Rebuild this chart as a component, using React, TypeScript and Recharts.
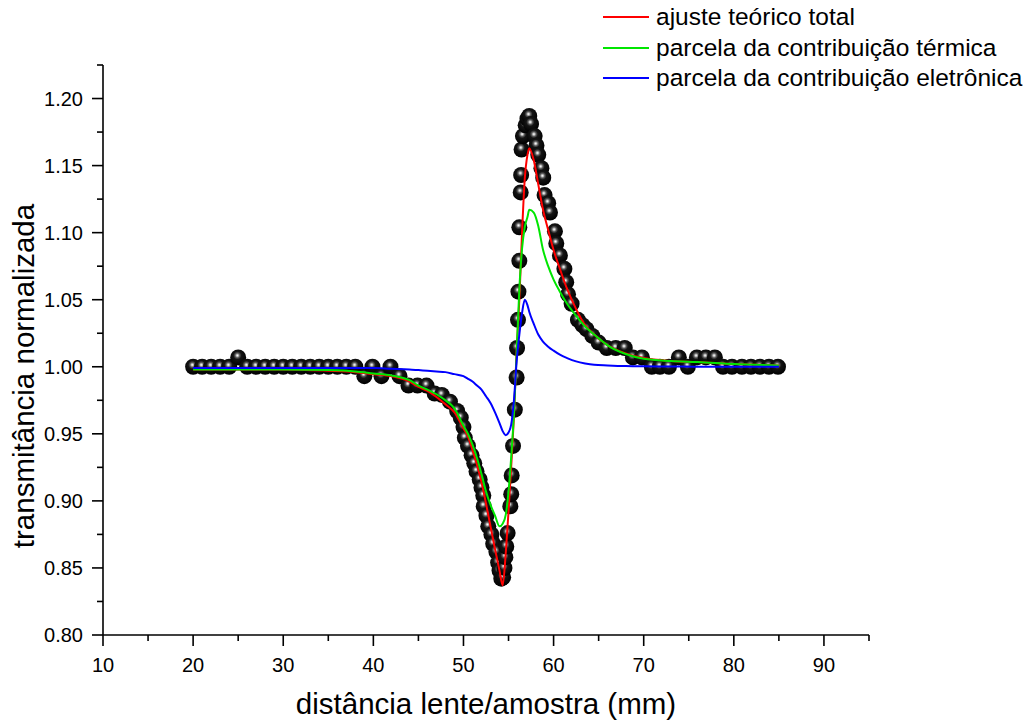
import { ComposedChart, Line, Scatter, XAxis, YAxis } from "recharts";

// measured z-scan points (distance in mm, normalized transmittance)
const scanX = [
  20, 21, 22, 23, 24, 25, 26, 27, 28, 29, 30, 31, 32, 33, 34, 35, 36, 37, 38,
  39.0, 39.9, 40.9, 41.9, 42.9, 43.9, 44.9, 45.9, 46.8, 47.6, 48.5, 49.3, 49.7,
  50.0, 50.15, 50.5, 50.9, 51.2, 51.45, 51.8, 52.0, 52.2, 52.25, 52.55, 52.75,
  53.1, 53.3, 53.65, 53.85, 54.0, 54.2, 54.4, 54.55, 54.65, 54.75, 54.9, 55.2,
  55.3, 55.35, 55.5, 55.7, 55.9, 55.95, 56.05, 56.1, 56.2, 56.2, 56.35, 56.4,
  56.45, 56.6, 56.9, 57.1, 57.3, 57.5, 57.9, 58.1, 58.3, 58.65, 58.85, 59.0,
  59.4, 59.6, 60.15, 60.3, 60.7, 61.2, 61.4, 61.6, 62.0, 62.7, 63.2, 63.65,
  64.3, 65.0, 65.9, 66.9, 67.9, 68.8, 69.8, 70.9, 71.8, 72.8, 73.9, 74.9, 75.9,
  76.9, 77.9, 78.8, 79.8, 80.9, 81.9, 82.9, 83.9, 84.9,
];
const scanY = [
  1.0, 1.0, 1.0, 1.0, 1.0, 1.007, 1.0, 1.0, 1.0, 1.0, 1.0, 1.0, 1.0, 1.0, 1.0, 1.0, 1.0, 1.0, 1.0,
  0.993, 1.0, 0.993, 1.0, 0.993, 0.986, 0.986, 0.986, 0.98, 0.979, 0.974, 0.967, 0.962,
  0.955, 0.947, 0.941, 0.934, 0.928, 0.922, 0.916, 0.91, 0.904, 0.896, 0.889, 0.881,
  0.875, 0.868, 0.862, 0.854, 0.848, 0.842, 0.843, 0.85, 0.858, 0.866, 0.876, 0.896,
  0.905, 0.919, 0.941, 0.968, 0.992, 1.014, 1.035, 1.056, 1.079, 1.104, 1.13, 1.143,
  1.162, 1.172, 1.18, 1.185, 1.187, 1.181, 1.172, 1.165, 1.158, 1.148, 1.141, 1.128,
  1.122, 1.115, 1.101, 1.092, 1.083, 1.073, 1.063, 1.054, 1.047, 1.035, 1.031, 1.028,
  1.023, 1.018, 1.014, 1.014, 1.014, 1.007, 1.007, 1.0, 1.0, 1.0, 1.007, 1.0, 1.007,
  1.007, 1.007, 1.0, 1.0, 1.0, 1.0, 1.0, 1.0, 1.0,
];

// fitted curves
const fitX = [
  20, 30, 35, 38, 40, 42, 44, 45, 46, 47, 48, 49, 50, 50.5, 51, 51.5, 52, 52.5,
  53, 53.5, 54, 54.35, 54.7, 55, 55.3, 55.6, 55.9, 56.2, 56.5, 56.8, 57.1, 57.3,
  57.8, 58.3, 58.8, 59.4, 60, 60.7, 61.5, 62.5, 63.5, 64.5, 66, 68, 70, 73, 76, 80, 85,
];
const totalFit = [
  0.998, 0.998, 0.997, 0.996, 0.9945, 0.993, 0.989, 0.985, 0.982, 0.9775, 0.972, 0.966, 0.954, 0.948, 0.938, 0.927, 0.914, 0.898,
  0.881, 0.864, 0.848, 0.837, 0.862, 0.892, 0.926, 0.963, 1.012, 1.05, 1.1, 1.14, 1.158, 1.163,
  1.154, 1.136, 1.118, 1.102, 1.087, 1.073, 1.058, 1.043, 1.031, 1.024, 1.016, 1.01, 1.0065, 1.0043, 1.0035, 1.002, 1.001,
];
const thermalFit = [
  0.998, 0.998, 0.9975, 0.9965, 0.995, 0.9935, 0.99, 0.986, 0.983, 0.9795, 0.975, 0.969, 0.956, 0.95, 0.942, 0.932, 0.92, 0.907,
  0.897, 0.889, 0.881, 0.883, 0.89, 0.907, 0.933, 0.965, 1.01, 1.058, 1.088, 1.104, 1.1116, 1.117,
  1.115, 1.105, 1.088, 1.075, 1.065, 1.056, 1.047, 1.038, 1.03, 1.024, 1.016, 1.0095, 1.006, 1.0043, 1.0035, 1.002, 1.001,
];
const electronicFit = [
  0.999, 0.999, 0.999, 0.999, 0.999, 0.9985, 0.998, 0.9975, 0.997, 0.9965, 0.996, 0.9945, 0.993, 0.991, 0.989, 0.986, 0.983, 0.978,
  0.973, 0.966, 0.958, 0.952, 0.949, 0.951, 0.957, 0.975, 1.004, 1.024, 1.04, 1.05, 1.046, 1.041,
  1.032, 1.024, 1.019, 1.015, 1.012, 1.009, 1.0065, 1.004, 1.0025, 1.0015, 1.001, 1.0005, 1.0003, 1.0002, 1.0, 1.0, 1.0,
];

const xMajor = [10, 20, 30, 40, 50, 60, 70, 80, 90];
const xAll = [10, 15, 20, 25, 30, 35, 40, 45, 50, 55, 60, 65, 70, 75, 80, 85, 90, 95];
const yMajor = [0.8, 0.85, 0.9, 0.95, 1.0, 1.05, 1.1, 1.15, 1.2];
const yAll = [0.8, 0.825, 0.85, 0.875, 0.9, 0.925, 0.95, 0.975, 1.0, 1.025, 1.05, 1.075, 1.1, 1.125, 1.15, 1.175, 1.2, 1.225];

const legendItems = [
  { name: "ajuste teórico total", color: "#ff0000" },
  { name: "parcela da contribuição térmica", color: "#00e600" },
  { name: "parcela da contribuição eletrônica", color: "#0000ff" },
];

const FONT = "'Liberation Sans', Arial, sans-serif";

const points = scanX.map((x, i) => ({ x, y: scanY[i] }));
const curves = fitX.map((x, i) => ({
  x,
  total: totalFit[i],
  thermal: thermalFit[i],
  electronic: electronicFit[i],
}));

const isMajor = (list: number[], v: number) => list.some((m) => Math.abs(m - v) < 1e-6);

function XTick(props: any) {
  const { x, y, payload } = props;
  const major = isMajor(xMajor, payload.value);
  return (
    <g>
      <line x1={x} x2={x} y1={y} y2={y + (major ? 11 : 6)} stroke="#000" strokeWidth={1.6} />
      {major && (
        <text x={x} y={y + 37} textAnchor="middle" fontSize={20} fontFamily={FONT} fill="#000">
          {payload.value}
        </text>
      )}
    </g>
  );
}

function YTick(props: any) {
  const { x, y, payload } = props;
  const major = isMajor(yMajor, payload.value);
  return (
    <g>
      <line x1={x} x2={x - (major ? 11 : 6)} y1={y} y2={y} stroke="#000" strokeWidth={1.6} />
      {major && (
        <text x={x - 20} y={y + 7} textAnchor="end" fontSize={20} fontFamily={FONT} fill="#000">
          {payload.value.toFixed(2)}
        </text>
      )}
    </g>
  );
}

function Ball(props: any) {
  const { cx, cy } = props;
  if (cx == null || cy == null) return null;
  return <circle cx={cx} cy={cy} r={8} fill="url(#ball) #000" />;
}

export default function App() {
  return (
    <div style={{ position: "absolute", left: 0, top: 0, width: 1034, height: 724, background: "#fff" }}>
      <ComposedChart
        width={1034}
        height={724}
        data={curves}
        margin={{ top: 65, right: 165, bottom: 49, left: 43 }}
      >
        <defs>
          <radialGradient id="ball" cx="45%" cy="38%" r="60%">
            <stop offset="0%" stopColor="#ffffff" />
            <stop offset="9%" stopColor="#d0d0d0" />
            <stop offset="24%" stopColor="#5a5a5a" />
            <stop offset="42%" stopColor="#141414" />
            <stop offset="100%" stopColor="#000000" />
          </radialGradient>
        </defs>
        <XAxis
          type="number"
          dataKey="x"
          domain={[10, 95]}
          ticks={xAll}
          interval={0}
          height={40}
          tickSize={0}
          tickMargin={0}
          tickLine={false}
          axisLine={{ stroke: "#000", strokeWidth: 1.6 }}
          tick={<XTick />}
          allowDataOverflow
          label={{
            content: (p: any) => (
              <text
                x={p.viewBox.x + p.viewBox.width / 2}
                y={714}
                textAnchor="middle"
                fontSize={29.5}
                fontFamily={FONT}
                fill="#000"
              >
                distância lente/amostra (mm)
              </text>
            ),
          }}
        />
        <YAxis
          type="number"
          domain={[0.8, 1.225]}
          ticks={yAll}
          interval={0}
          width={60}
          tickSize={0}
          tickMargin={0}
          tickLine={false}
          axisLine={{ stroke: "#000", strokeWidth: 1.6 }}
          tick={<YTick />}
          allowDataOverflow
          label={{
            content: () => (
              <text
                x={34}
                y={376}
                transform="rotate(-90 34 376)"
                textAnchor="middle"
                fontSize={29.5}
                fontFamily={FONT}
                fill="#000"
              >
                transmitância normalizada
              </text>
            ),
          }}
        />
        <Scatter data={points} dataKey="y" shape={<Ball />} zIndex={500} isAnimationActive={false} />
        <Line type="monotone" dataKey="total" stroke="#ff0000" strokeWidth={2} dot={false} zIndex={800} isAnimationActive={false} />
        <Line type="monotone" dataKey="thermal" stroke="#00e600" strokeWidth={2} dot={false} zIndex={810} isAnimationActive={false} />
        <Line type="monotone" dataKey="electronic" stroke="#0000ff" strokeWidth={2} dot={false} zIndex={820} isAnimationActive={false} />
      </ComposedChart>
      <div style={{ position: "absolute", left: 603, top: 2, fontFamily: FONT, fontSize: 24.5, color: "#000" }}>
        {legendItems.map((item) => (
          <div key={item.name} style={{ display: "flex", alignItems: "center", height: 30.5, whiteSpace: "nowrap" }}>
            <span style={{ display: "inline-block", width: 46, height: 2, background: item.color, marginRight: 7 }} />
            <span>{item.name}</span>
          </div>
        ))}
      </div>
    </div>
  );
}
